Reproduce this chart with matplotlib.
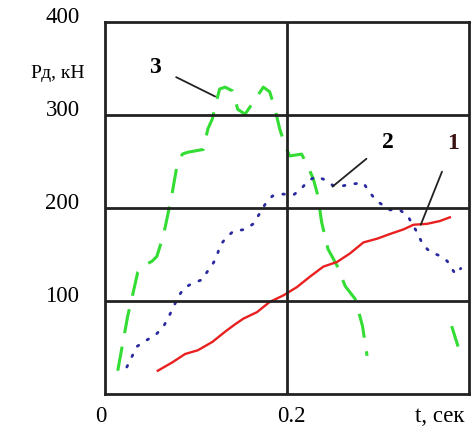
import numpy as np
import matplotlib.pyplot as plt
from matplotlib.transforms import blended_transform_factory

# Кривая 1 (красная, сплошная)
t1 = [0.058, 0.074, 0.088, 0.102, 0.118, 0.132, 0.143, 0.152, 0.167, 0.181,
      0.196, 0.211, 0.225, 0.240, 0.255, 0.269, 0.284, 0.299, 0.313, 0.328,
      0.339, 0.354, 0.368, 0.379]
p1 = [25, 34, 43, 47, 56, 67, 75, 81, 88, 99,
      106, 115, 126, 137, 142, 151, 163, 167, 172, 177,
      182, 183, 186, 190]

# Кривая 2 (синяя, точки)
t2 = [0.024, 0.030, 0.035, 0.044, 0.055, 0.064, 0.070, 0.076, 0.080, 0.087,
      0.096, 0.107, 0.112, 0.118, 0.123, 0.126, 0.133, 0.141, 0.154, 0.163,
      0.168, 0.176, 0.184, 0.196, 0.207, 0.215, 0.223, 0.232, 0.240, 0.251,
      0.262, 0.273, 0.284, 0.290, 0.298, 0.313, 0.324, 0.333, 0.344, 0.349,
      0.357, 0.367, 0.376, 0.385, 0.391]
p2 = [29, 41, 51, 57, 63, 72, 83, 95, 104, 114,
      119, 123, 131, 139, 148, 159, 168, 175, 177, 183,
      191, 204, 213, 215, 214, 220, 229, 234, 231, 224,
      224, 226, 227, 218, 208, 198, 198, 191, 172, 161,
      153, 149, 143, 129, 135]

# Кривая 3 (зелёная, штрих)
t3 = [0.014, 0.019, 0.025, 0.030, 0.036, 0.041, 0.052, 0.057, 0.064, 0.068,
      0.074, 0.079, 0.085, 0.091, 0.108, 0.113, 0.118, 0.123, 0.126, 0.132,
      0.140, 0.146, 0.154, 0.163, 0.174, 0.181, 0.187, 0.192, 0.198, 0.203,
      0.216, 0.223, 0.229, 0.234, 0.238, 0.245, 0.255, 0.264, 0.275, 0.283,
      0.288, np.nan, 0.381, 0.388]
p3 = [25, 52, 84, 105, 131, 137, 143, 148, 170, 188,
      217, 245, 258, 260, 263, 285, 296, 317, 328, 330,
      326, 306, 301, 314, 330, 325, 306, 285, 267, 256,
      258, 245, 231, 213, 185, 156, 138, 116, 102, 73,
      41, np.nan, 73, 51]

plt.rcParams['font.family'] = ['Liberation Serif', 'DejaVu Serif']

fig = plt.figure(figsize=(4.73, 4.27), dpi=100)
ax = fig.add_axes([0.222, 0.075, 0.7695, 0.871])

ax.plot(t3, p3, color='#33dd33', lw=2.2, linestyle=(0, (8, 4.5)))
ax.plot(t2, p2, color='#2a2aa0', lw=2.0, linestyle=(0, (0.6, 3.6)),
        dash_capstyle='round')
ax.plot(t1, p1, color='#e82020', lw=1.7)

ax.set_xlim(0, 0.4)
ax.set_ylim(0, 400)
for v in [100, 200, 300]:
    ax.axhline(v, color='#222222', lw=2)
ax.axvline(0.2, color='#222222', lw=2)
for s in ax.spines.values():
    s.set_linewidth(2)
    s.set_color('#222222')
ax.set_xticks([])
ax.set_yticks([])

# подписи осей
ty = blended_transform_factory(ax.transAxes, ax.transData)
for v in [100, 200, 300, 400]:
    ax.text(-0.07, v + 6, str(v), transform=ty, ha='right', va='center',
            fontsize=16.5, clip_on=False)
ax.text(-0.13, 346, 'Рд, кН', transform=ty, ha='center', va='center',
        fontsize=14, clip_on=False)
tx = blended_transform_factory(ax.transData, ax.transAxes)
ax.text(-0.005, -0.058, '0', transform=tx, ha='center', va='center',
        fontsize=16.5, clip_on=False)
ax.text(0.205, -0.058, '0.2', transform=tx, ha='center', va='center',
        fontsize=16.5, clip_on=False)
ax.text(0.368, -0.058, 't, сек', transform=tx, ha='center', va='center',
        fontsize=16.5, clip_on=False)

# номера кривых
ax.annotate('3', xy=(0.121, 320), xytext=(0.055, 352), fontsize=17,
            fontweight='bold', ha='center', va='center',
            arrowprops=dict(arrowstyle='-', color='#222222', lw=1.3,
                            shrinkA=10, shrinkB=0))
ax.annotate('2', xy=(0.250, 223), xytext=(0.311, 272), fontsize=17,
            fontweight='bold', ha='center', va='center',
            arrowprops=dict(arrowstyle='-', color='#222222', lw=1.3,
                            shrinkA=12, shrinkB=0))
ax.annotate('1', xy=(0.347, 182), xytext=(0.383, 270), fontsize=17,
            fontweight='bold', ha='center', va='center', color='#3a1010',
            arrowprops=dict(arrowstyle='-', color='#222222', lw=1.3,
                            shrinkA=12, shrinkB=0))

fig.savefig('out.png', dpi=100)
